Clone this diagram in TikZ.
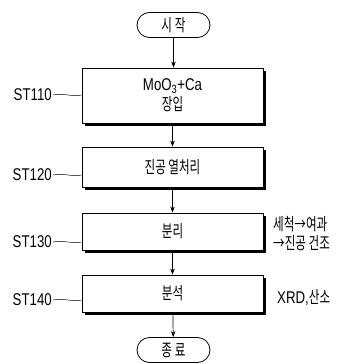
\documentclass[tikz,border=0pt]{standalone}
\usepackage{fontspec}
\setmainfont[FakeStretch=0.78]{Liberation Sans}
\newfontfamily\kr[FakeStretch=0.68]{Noto Sans CJK KR}
\usetikzlibrary{arrows.meta,shapes.misc,shadows}
\begin{document}
\begin{tikzpicture}[x=1pt,y=-1pt,
  every node/.style={font=\fontsize{17}{16}\selectfont},
  proc/.style={draw,line width=0.8pt,fill=white,minimum width=181pt,inner sep=0pt,align=center,
    drop shadow={shadow xshift=2.5pt,shadow yshift=-2.5pt,fill=black,opacity=1}},
  term/.style={draw,line width=0.8pt,rounded rectangle,minimum width=73pt,minimum height=25pt,inner sep=0pt},
  arr/.style={-{Stealth[length=6pt,width=4.5pt]},line width=0.7pt},
  lead/.style={line width=0.5pt},
  lab/.style={anchor=east,inner sep=1pt}]
\useasboundingbox (0,0) rectangle (358,364);
\node[term] (s) at (173.5,25) {\kr 시\hspace{3pt}작};
\node[proc,minimum height=55pt] (b1) at (172.5,95.5) {MoO\textsubscript{3}+Ca\\[2pt]\kr 장입};
\node[proc,minimum height=40pt] (b2) at (172.5,167) {\kr 진공 열처리};
\node[proc,minimum height=37pt] (b3) at (172.5,231.5) {\kr 분리};
\node[proc,minimum height=37pt] (b4) at (172.5,293.5) {\kr 분석};
\node[term] (e) at (173.5,350) {\kr 종\hspace{3pt}료};
\draw[arr] (s) -- (s|-b1.north);
\draw[arr] (b1) -- (b2);
\draw[arr] (b2) -- (b3);
\draw[arr] (b3) -- (b4);
\draw[arr] (b4) -- (e);
\node[lab] (l1) at (53,95) {ST110};
\node[lab] (l2) at (53,175) {ST120};
\node[lab] (l3) at (53,242) {ST130};
\node[lab] (l4) at (53,300) {ST140};
\foreach \l/\b/\y in {l1/b1/95,l2/b2/175,l3/b3/242,l4/b4/300}{
  \draw[lead] (\l.east) .. controls +(12,-2) and +(-10,2) .. (\b.west|-0,\y);
}
\node[anchor=west,align=left,inner sep=0pt,font=\kr\fontsize{17}{19}\selectfont] (r3) at (273,234) {세척→여과\\→진공 건조};
\node[anchor=west,inner sep=0pt] (r4) at (277,298) {XRD,\kr 산소};
\end{tikzpicture}
\end{document}
